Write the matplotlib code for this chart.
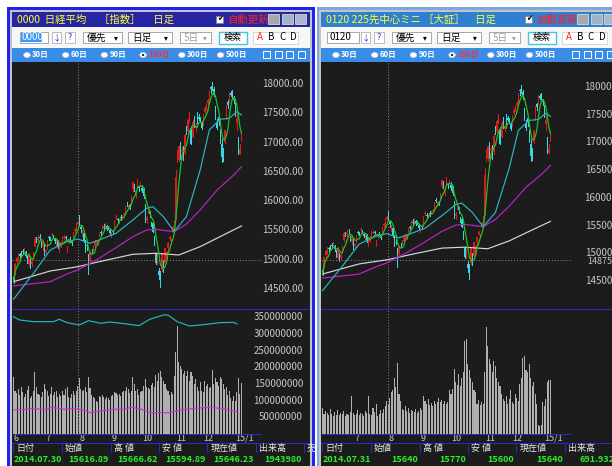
import numpy as np
import pandas as pd
import matplotlib
matplotlib.use('Agg')
import matplotlib.pyplot as plt
from matplotlib.patches import Rectangle, Circle
import matplotlib.transforms as mtrans

plt.rcParams['font.family'] = ['Noto Sans CJK JP', 'DejaVu Sans']

# ---------------- data (daily candles 2014/05/30 - 2015/01/08) ----------------
open_ = [14700,
 14760,14960,15030,15100,15130,15150,15140,15130,15050,14920,14990,14920,15030,15240,15360,15340,15380,15300,15230,15260,15140,
 15190,15380,15370,15420,15410,15350,15260,15330,15150,15220,15320,15370,15390,15180,15290,15370,15300,15400,15490,15520,15617,15680,
 15560,15420,15450,15280,15240,15050,14980,15170,15180,15230,15310,15260,15420,15470,15510,15560,15550,15580,15560,15510,15400,
 15480,15510,15710,15690,15660,15730,15720,15760,15820,15960,15880,15930,15970,16210,16290,16080,16260,16240,16290,16230,
 16200,15900,15670,15800,15830,15600,15620,15350,15100,14980,14810,14800,14820,14980,14950,15010,15200,15350,15300,15480,15480,15700,
 16700,16700,17000,16860,16930,16820,17200,17200,17390,17250,17100,17400,17250,17430,17440,17410,17330,17320,
 17530,17600,17680,17700,17950,17960,17910,17600,17350,17440,17180,16980,16900,17010,17420,17700,17720,17840,17860,17740,17650,
 17330,17100,16810,17070]
high = [14730,
 14940,15050,15110,15120,15150,15180,15200,15150,15060,15120,15010,15010,15130,15380,15390,15420,15440,15320,15320,15270,15170,
 15330,15400,15390,15450,15420,15360,15330,15340,15240,15310,15400,15420,15410,15240,15350,15380,15320,15470,15540,15630,15667,15760,
 15590,15510,15470,15330,15280,15100,15140,15190,15240,15330,15340,15340,15460,15490,15600,15610,15630,15600,15580,15530,15470,
 15500,15680,15760,15720,15700,15760,15770,15800,15920,15990,15930,15950,16080,16330,16300,16180,16380,16260,16320,16280,
 16220,15950,15750,15900,15840,15650,15660,15400,15120,15090,14860,14810,15120,15000,15200,15150,15300,15400,15350,15570,15670,16530,
 16880,16940,17010,16920,16950,17150,17290,17400,17520,17280,17390,17460,17340,17520,17480,17440,17350,17490,
 17620,17680,17740,17890,17960,18030,17950,17620,17400,17450,17230,17060,16900,17220,17650,17720,17860,17880,17890,17790,17680,
 17540,17100,16970,17200]
low = [14600,
 14740,14940,14990,15030,15050,15100,15110,15040,14940,14900,14860,14890,15000,15230,15310,15320,15330,15220,15170,15080,15100,
 15180,15340,15330,15400,15370,15290,15250,15200,15130,15210,15310,15360,15350,15130,15280,15310,15260,15390,15470,15500,15595,15600,
 15470,15400,15300,15140,15160,14750,14970,15110,15160,15200,15280,15250,15400,15420,15500,15530,15540,15510,15520,15430,15380,
 15440,15500,15690,15650,15630,15680,15700,15740,15810,15920,15860,15870,15960,16180,16180,16060,16250,16180,16270,16150,
 16050,15640,15620,15790,15730,15570,15470,15260,14920,14920,14670,14530,14800,14790,14940,14990,15170,15330,15270,15470,15450,15690,
 16660,16680,16720,16720,16700,16800,17150,17180,17350,16970,17090,17260,17200,17340,17380,17350,17230,17300,
 17510,17560,17660,17690,17850,17900,17790,17400,17230,17300,17000,16670,16680,16990,17410,17590,17700,17790,17780,17670,17450,
 17220,16810,16810,17020]
close = [14632,
 14935,15034,15068,15069,15077,15124,15169,15069,14973,15097,14933,14975,15115,15361,15349,15369,15376,15267,15308,15095,15162,
 15326,15369,15348,15437,15379,15314,15302,15216,15164,15296,15395,15379,15370,15215,15343,15328,15284,15457,15529,15618,15646,15621,
 15523,15474,15320,15159,15232,14778,15130,15161,15213,15314,15318,15322,15449,15454,15586,15539,15613,15521,15534,15459,15424,
 15476,15668,15728,15676,15668,15705,15749,15788,15909,15948,15911,15888,16067,16321,16205,16167,16374,16229,16310,16173,
 16082,15661,15708,15890,15783,15595,15478,15300,14936,15073,14738,14532,15111,14804,15195,15138,15291,15388,15329,15553,15658,16413,
 16862,16937,16792,16880,16780,17124,17197,17392,17490,16973,17344,17288,17300,17357,17407,17383,17248,17459,
 17590,17663,17720,17887,17920,17935,17813,17412,17257,17371,17099,16755,16819,17210,17621,17635,17854,17808,17818,17729,17451,
 17408,16883,16885,17167]

# moving averages (candle index, value)
ma25_idx = [0, 13, 24, 35, 42, 50, 56, 67, 78, 87, 91, 98, 105, 113, 122, 128, 135, 141, 146, 149]
ma25_val = [14325, 14768, 15166, 15308, 15354, 15281, 15337, 15451, 15678, 15878, 15906, 15735, 15479, 15735, 16532, 17215, 17397, 17414, 17527, 17471]
ma75_idx = [0, 24, 35, 42, 56, 67, 78, 87, 93, 105, 113, 122, 133, 144, 149]
ma75_val = [14552, 14625, 14757, 14825, 15025, 15206, 15394, 15508, 15520, 15479, 15610, 15849, 16190, 16447, 16588]
ma200_idx = [0, 24, 42, 56, 78, 93, 108, 122, 135, 149]
ma200_val = [14625, 14808, 14881, 14967, 15093, 15110, 15081, 15223, 15394, 15576]

# volume, left (index, millions of shares)
vol_left = [172,128,122,135,118,140,125,110,120,132,
 145,108,115,128,187,140,120,118,112,126,
 150,135,128,115,120,142,118,125,130,112,
 120,115,128,118,135,140,112,108,120,128,
 118,130,145,168,135,128,132,140,125,172,
 138,118,112,108,100,95,115,112,118,110,
 105,112,108,102,115,118,125,122,118,120,
 115,125,130,128,140,135,122,128,172,150,
 128,135,118,125,130,145,165,140,138,135,
 148,152,140,178,160,182,190,172,160,150,
 135,128,118,125,120,175,247,324,215,205,
 195,180,188,175,190,160,185,175,150,165,
 140,128,155,130,125,160,145,150,138,142,
 192,150,168,155,145,170,165,150,135,140,
 118,130,108,100,115,100,125,167,120,154]
vline1_idx = [0, 4, 13, 26, 30, 35, 43, 49, 57, 63, 74, 82, 89, 98, 101, 107, 115, 122, 128, 135, 144, 146]
vline1_val = [352, 342, 337, 337, 344, 334, 327, 340, 332, 336, 330, 325, 344, 357, 357, 337, 324, 327, 330, 334, 335, 330]
vline2_idx = [0, 9, 13, 20, 25, 33, 39, 46, 50, 57, 65, 72, 78, 85, 89, 102, 109, 118, 128, 137, 146]
vline2_val = [72, 74, 77, 72, 80, 74, 76, 72, 64, 69, 74, 75, 80, 72, 64, 64, 72, 77, 80, 76, 67]

# volume, right (thousand contracts)
vol_right = [260,200,230,210,190,250,200,180,220,195,
 240,190,210,200,230,185,200,195,220,380,
 210,190,205,240,195,215,200,180,230,210,
 380,200,190,260,220,300,180,200,240,210,
 250,280,330,300,360,420,440,560,470,710,
 400,330,250,240,280,230,260,210,240,230,
 220,250,210,230,260,240,380,330,300,350,
 290,310,280,330,300,320,360,320,340,300,
 330,300,320,440,400,450,650,520,490,600,
 480,560,620,930,950,700,640,560,520,440,
 420,300,340,290,320,300,620,1070,880,750,
 700,620,730,680,560,520,480,400,350,330,
 380,300,350,440,320,300,400,360,330,500,
 560,760,780,640,620,700,560,480,520,400,
 300,90,80,90,320,280,350,520,540,540]

month_idx = [1, 22, 44, 65, 85, 107, 125, 146]
month_lbl = ['6', '7', '8', '9', '10', '11', '12', '15/1']
price_ticks = [18000, 17500, 17000, 16500, 16000, 15500, 15000, 14500]
vol_ticks = [350, 300, 250, 200, 150, 100, 50]

info_head = ['日付', '始値', '高 値', '安 値', '現在値', '出来高', '売']
info_left = ['2014.07.30', '15616.89', '15666.62', '15594.89', '15646.23', '1943980']
info_right = ['2014.07.31', '15640', '15770', '15600', '15640', '691.932']
radio_lbl = ['30日', '60日', '90日', '150日', '300日', '500日']

# ---------------- figure ----------------
W, H = 612, 466
fig = plt.figure(figsize=(W / 100, H / 100), dpi=100)
fig.patch.set_facecolor('white')


def rect(x, y, w, h, fc, ec='none', lw=0, z=0.5):
    fig.patches.append(Rectangle((x / W, 1 - (y + h) / H), w / W, h / H,
                                 transform=fig.transFigure, facecolor=fc,
                                 edgecolor=ec, linewidth=lw, zorder=z))


def txt(x, y, s, color='black', size=7.5, ha='left', weight='normal', z=5):
    fig.text(x / W, 1 - y / H, s, color=color, fontsize=size, ha=ha,
             va='center', weight=weight, zorder=z)


def add_ax(x, y, w, h):
    ax = fig.add_axes([x / W, 1 - (y + h) / H, w / W, h / H])
    ax.set_facecolor('none')
    ax.set_zorder(2)
    for s in ax.spines.values():
        s.set_visible(False)
    ax.set_xticks([])
    ax.set_yticks([])
    return ax


idx = np.arange(len(close))
o = np.array(open_, float); c = np.array(close, float)
hi = np.array(high, float); lo = np.array(low, float)
ma5 = pd.Series(c).rolling(5, min_periods=1).mean().values

UP, DN = '#e01a1a', '#38d8e8'
BG = '#1c1c1c'
BLUE_LINE = '#2a2acc'


def panel(dx, title, code, active, top_price, px_per500, y18000, vol, vol_scale, show_vol_axis, dec):
    # frame
    if active:
        rect(7 + dx, 7, 308, 470, '#2222ee')
        rect(10 + dx, 10, 302, 470, '#c4c4c4')
        tcol = '#2626a4'
    else:
        rect(8 + dx, 7, 400, 470, '#7ea6e0')
        rect(10 + dx, 9.5, 400, 470, '#c4c4c4')
        tcol = '#2f7fd2'
    # title bar
    rect(12 + dx, 12, 298, 15, tcol)
    txt(17 + dx, 19.5, title, color='#ffff30', size=7.5)
    rect(216 + dx, 15.5, 7, 7, 'white', ec='#808080', lw=0.5)
    txt(216.8 + dx, 19.2, '✔', color='black', size=5.5)
    txt(227 + dx, 19.5, '自動更新', color='#ff2020', size=7.5)
    for bx, bc in [(268, '#a8a8a8'), (282, '#9fb4c8'), (295, '#a8b8c8')]:
        rect(bx + dx, 14, 11, 10, bc, ec='#d8d8d8', lw=0.6)
    # toolbar
    rect(12 + dx, 27, 298, 21, '#f7f7f7')
    if active:
        rect(20 + dx, 32, 28, 11, 'white', ec='#9a9a9a', lw=0.6)
        rect(21 + dx, 33.5, 21, 8, '#3399ff')
        txt(21.5 + dx, 37.5, code, color='white', size=7)
    else:
        rect(18 + dx, 32, 32, 11, 'white', ec='#9a9a9a', lw=0.6)
        txt(20 + dx, 37.5, code, color='black', size=7)
    rect(52 + dx, 32, 9, 11, 'white', ec='#b0b0b0', lw=0.6)
    txt(56.5 + dx, 37.5, '↓', color='#2040d0', size=6, ha='center')
    rect(65 + dx, 32, 10, 11, 'white', ec='#b0b0b0', lw=0.6)
    txt(70 + dx, 37.5, '?', color='#2040d0', size=6.5, ha='center')
    for cx, cw, lbl, col in [(83, 39, '優先', 'black'), (128, 44, '日足', 'black'), (180, 31, '5日', '#a0a0a0')]:
        rect(cx + dx, 32, cw, 11, 'white', ec='#9a9a9a', lw=0.6)
        txt(cx + 4 + dx, 37.5, lbl, color=col, size=7)
        txt(cx + cw - 6 + dx, 38, '▾', color=col, size=5.5, ha='center')
    rect(219 + dx, 31.5, 28, 12, 'white', ec='#40c8e0', lw=1.0)
    txt(233 + dx, 37.5, '検索', color='black', size=6.5, ha='center')
    rect(253 + dx, 31.5, 45, 12, 'white', ec='#d0d0d0', lw=0.6)
    for k, (lt, lc) in enumerate([('A', '#ff2020'), ('B', 'black'), ('C', 'black'), ('D', 'black')]):
        txt(260 + k * 11 + dx, 37.5, lt, color=lc, size=7, ha='center')
    # radio bar
    rect(12 + dx, 48, 298, 14, '#3a8de6')
    for k, lbl in enumerate(radio_lbl):
        cx = 27 + k * 38.7 + dx
        fig.patches.append(Circle((cx / W, 1 - 55 / H), 3.3 / W, transform=fig.transFigure,
                                  facecolor='white', edgecolor='#d0d0d0', lw=0.5, zorder=1))
        if k == 3:
            fig.patches.append(Circle((cx / W, 1 - 55 / H), 1.2 / W, transform=fig.transFigure,
                                      facecolor='black', edgecolor='none', zorder=1.1))
        txt(cx + 5, 55, lbl, color='#ff3030' if k == 3 else 'white', size=5.5, weight='bold')
    for k in range(4):
        rect(263 + k * 11.5 + dx, 51, 7, 7, 'none', ec='white', lw=0.7, z=1)
    # chart background
    rect(12 + dx, 62, 298, 404, BG)

    # ---- price axes ----
    ax = add_ax(12 + dx, 62, 298, 247)
    x0 = 13.5 + dx
    ax.set_xlim((12 + dx - x0) / 1.53, (310 + dx - x0) / 1.53)
    ppx = 500.0 / px_per500
    ax.set_ylim(18000 - (309 - y18000) * ppx, 18000 + (y18000 - 62) * ppx)
    ax.axhline(top_price, xmin=0, xmax=(262 - 12) / 298, color='#8a8a8a', lw=0.7, ls=(0, (1, 2)))
    ax.axvline(42 + (1 if not active else 0), color='#8a8a8a', lw=0.7, ls=(0, (1, 2)))
    up = c >= o
    body_lo = np.minimum(o, c)
    body_h = np.maximum(np.abs(c - o), 12)
    ax.vlines(idx[up], lo[up], hi[up], color=UP, lw=0.6, antialiased=False)
    ax.vlines(idx[~up], lo[~up], hi[~up], color=DN, lw=0.6, antialiased=False)
    ax.bar(idx[up], body_h[up], bottom=body_lo[up], width=0.7, color=UP, antialiased=False)
    ax.bar(idx[~up], body_h[~up], bottom=body_lo[~up], width=0.7, color=DN, antialiased=False)
    ax.plot(ma200_idx, ma200_val, color='#d8d8d8', lw=0.85)
    ax.plot(ma75_idx, ma75_val, color='#c020c8', lw=0.85)
    ax.plot(ma25_idx, ma25_val, color='#28b8c8', lw=0.85)
    ax.plot(idx, ma5, color='#20c020', lw=0.9)
    tr = mtrans.blended_transform_factory(fig.transFigure, ax.transData)
    for p in price_ticks:
        ax.text((303 + dx) / W, p, (f'{p:.2f}' if dec else f'{p}'), transform=tr,
                ha='right', va='center', color='#c8c8c8', fontsize=7, clip_on=False)
    if not active:
        ax.text((303 + dx) / W, top_price - 25, f'{top_price}', transform=tr,
                ha='right', va='center', color='#c8c8c8', fontsize=6.5, clip_on=False)

    # ---- volume axes ----
    av = add_ax(12 + dx, 309, 298, 125)
    av.set_xlim(ax.get_xlim())
    av.set_ylim(0, 125 * vol_scale)
    av.bar(idx, vol, width=0.7, color='#b0b0b0', antialiased=False)
    av.axvline(42 + (1 if not active else 0), color='#8a8a8a', lw=0.7, ls=(0, (1, 2)))
    if show_vol_axis:
        av.plot(vline1_idx, vline1_val, color='#20b8c0', lw=0.85)
        av.plot(vline2_idx, vline2_val, color='#d030d0', lw=0.85)
        trv = mtrans.blended_transform_factory(fig.transFigure, av.transData)
        for v in vol_ticks:
            av.text((303 + dx) / W, v, f'{v * 1000000}', transform=trv, ha='right',
                    va='center', color='#c8c8c8', fontsize=7, clip_on=False)
    # separators and axis line
    rect(12 + dx, 308.5, 298, 1, BLUE_LINE, z=3)
    rect(13 + dx, 433.5, 249, 1, BLUE_LINE, z=3)
    trm = mtrans.blended_transform_factory(av.transData, fig.transFigure)
    for mi, ml in zip(month_idx, month_lbl):
        if not active and ml == '6':
            continue
        av.text(mi - 0.8, 1 - 438.5 / H, ml, transform=trm, ha='left', va='center',
                color='#c8c8c8', fontsize=6.5, clip_on=False)

    # ---- info table ----
    bounds = [13.3, 61.7, 111, 159.3, 207.3, 256, 304, 352]
    rect(12 + dx, 443, 298, 0.9, BLUE_LINE, z=3)
    rect(12 + dx, 452.5, 298, 0.9, BLUE_LINE, z=3)
    for k, hd in enumerate(info_head):
        bx = bounds[k] + dx
        rect(bx, 443, 0.9, 10, BLUE_LINE, z=3)
        if bx < 612 and (active or k < 6):
            txt(bx + 3, 448.5, hd, color='#e8e8e8', size=6.5)
    info = info_left if active else info_right
    gcol = '#28f028'
    txt(14 + dx, 460, info[0], color=gcol, size=6.5, weight='bold')
    for k in range(1, 6):
        if k == 5 and not active:
            txt(bounds[5] + 14 + dx, 460, info[k], color=gcol, size=6.5, weight='bold')
        else:
            txt(bounds[k + 1] - 2 + dx, 460, info[k], color=gcol, size=6.5, ha='right', weight='bold')


panel(0, '0000  日経平均　 ［指数］　 日足', '0000', True, 15000, 29.29, 84,
      vol_left, 3.0, True, True)
panel(309, '0120 225先中心ミニ ［大証］　日足', '0120', False, 14875, 27.71, 87,
      vol_right, 10.0, False, False)
# white gap between panels
rect(315, 0, 2, 466, 'white', z=0.6)

fig.savefig('out.png', dpi=100, facecolor=fig.get_facecolor())
